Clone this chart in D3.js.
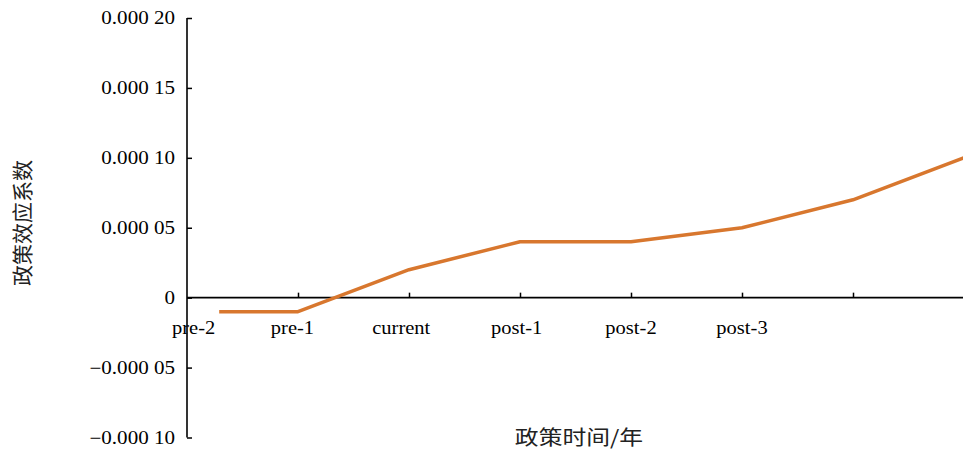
<!DOCTYPE html>
<html><head><meta charset="utf-8">
<script src="https://cdn.jsdelivr.net/npm/d3@7/dist/d3.min.js"></script>
<style>body{margin:0;background:#fff;}svg{display:block;}</style>
</head><body>
<svg id="chart" width="963" height="450"></svg>
<script>
// Data
const categories = ["pre-2","pre-1","current","post-1","post-2","post-3","",""];
const labelPos = [0.06, 0.95, 1.93, 2.97, 4.0, 5.0];
const pointPos = [0.29, 1, 2, 3, 4, 5, 6, 7];
const values = [-0.00001, -0.00001, 0.00002, 0.00004, 0.00004, 0.00005, 0.00007, 0.0001];
const yTicks = [-0.0001, -0.00005, 0, 0.00005, 0.0001, 0.00015, 0.0002];
const yTickLabels = ["\u22120.000 10","\u22120.000 05","0","0.000 05","0.000 10","0.000 15","0.000 20"];
const xTickIdx = [1,2,3,4,5,6,7];

const svg = d3.select("#chart");
const x = d3.scaleLinear().domain([0,7]).range([187, 964]);
const y = d3.scaleLinear().domain([-0.0001, 0.0002]).range([437.5, 18]);

const serif = "'Liberation Serif','Times New Roman',serif";
const cjk = "'Noto Sans CJK SC','Noto Sans',sans-serif";

// Y axis
const yAxis = d3.axisRight(y).tickValues(yTicks).tickSize(5).tickFormat("");
const gy = svg.append("g").attr("transform","translate(187,0)").call(yAxis);
gy.select(".domain").attr("d", `M0,${y(-0.0001)}H0V${y(0.0002)}`).attr("stroke","#000").attr("stroke-width",1.6);
gy.selectAll(".tick line").attr("stroke","#000").attr("stroke-width",1.5);

svg.append("g").selectAll("text").data(yTicks).join("text")
  .attr("transform", d => `translate(175,${y(d)}) scale(1.17,1)`)
  .attr("dy","0.35em")
  .attr("text-anchor","end").attr("font-family",serif).attr("font-size",18)
  .attr("fill","#000")
  .text((d,i) => yTickLabels[i]);

// X axis at zero
const xAxis = d3.axisTop(x).tickValues(xTickIdx).tickSize(5).tickFormat("");
const gx = svg.append("g").attr("transform",`translate(0,${y(0)})`).call(xAxis);
gx.select(".domain").attr("d", `M187,0H963`).attr("stroke","#000").attr("stroke-width",1.6);
gx.selectAll(".tick line").attr("stroke","#000").attr("stroke-width",1.5);

svg.append("g").selectAll("text").data(labelPos).join("text")
  .attr("transform", d => `translate(${x(d)},${y(0) + 30}) scale(1.14,1)`)
  .attr("dy","0.35em")
  .attr("text-anchor","middle").attr("font-family",serif).attr("font-size",18)
  .attr("fill","#000")
  .text((d,i) => categories[i]);

// Line
const pts = pointPos.map((p,i) => [p, values[i]]);
svg.append("path").datum(pts)
  .attr("fill","none").attr("stroke","#D8772E").attr("stroke-width",3.5)
  .attr("stroke-linejoin","round")
  .attr("d", d3.line().x(d => x(d[0])).y(d => y(d[1])));

// Titles
svg.append("text").attr("transform","translate(23,223) rotate(-90)")
  .attr("text-anchor","middle").attr("dy","0.35em")
  .attr("font-family",cjk).attr("font-size",21).attr("fill","#222")
  .text("政策效应系数");
svg.append("text").attr("transform","translate(579,438) scale(1.19,1)")
  .attr("dy","0.35em")
  .attr("text-anchor","middle")
  .attr("font-family",cjk).attr("font-size",20).attr("fill","#222")
  .text("政策时间/年");
</script>
</body></html>
